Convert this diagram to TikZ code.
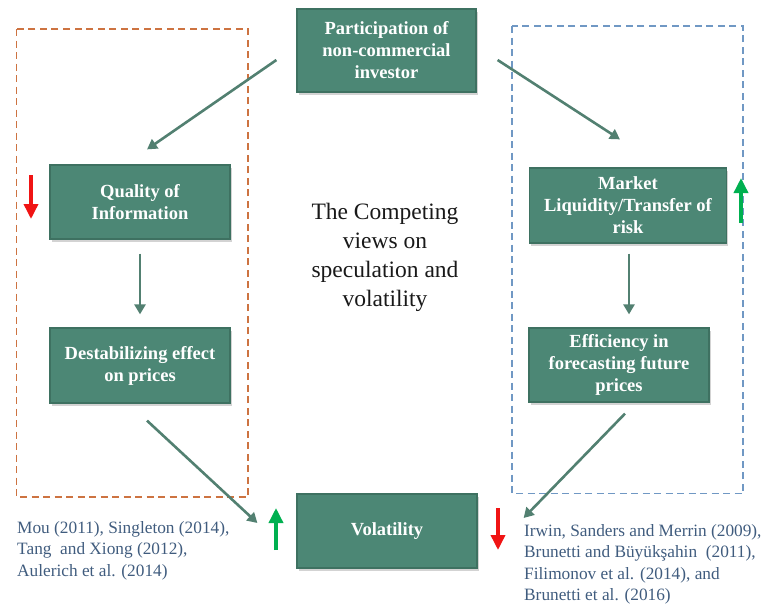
\documentclass[tikz,border=0pt]{standalone}
\usepackage{fontspec}
\setmainfont{Liberation Serif}
\usetikzlibrary{arrows.meta,shadows,calc}
\definecolor{boxgreen}{RGB}{76,135,117}
\definecolor{boxedge}{RGB}{62,113,97}
\definecolor{flowline}{RGB}{82,128,113}
\definecolor{citeblue}{RGB}{64,92,126}
\definecolor{leftdash}{RGB}{205,115,65}
\definecolor{rightdash}{RGB}{112,152,196}
\definecolor{upgreen}{RGB}{0,176,80}
\definecolor{downred}{RGB}{240,20,20}

\begin{document}
\begin{tikzpicture}[x=1pt,y=-1pt,
  factor/.style={fill=boxgreen, draw=boxedge, line width=1.2pt, text=white,
    font=\bfseries\fontsize{18.5}{22}\selectfont, align=center, inner sep=0pt,
    drop shadow={shadow xshift=1.5pt, shadow yshift=-2.5pt, opacity=0.35}},
  flow/.style={draw=flowline, line width=2.6pt,
    -{Triangle[length=10pt,width=11pt]}},
  upmark/.style={draw=upgreen, line width=3.5pt, -{Triangle[length=15pt,width=14pt]}},
  downmark/.style={draw=downred, line width=3.5pt, -{Triangle[length=15pt,width=14pt]}},
  camp/.style={dashed, dash pattern=on 7pt off 4.5pt, line width=1.4pt},
  cite/.style={text=citeblue, font=\fontsize{17.3}{21.5}\selectfont, align=left,
    inner sep=0pt, anchor=north west}
]
\useasboundingbox (0,0) rectangle (763,606);

% the two camps
\draw[camp, leftdash] (16.5,29) rectangle (248,497);
\draw[camp, rightdash] (512,26) rectangle (743,493.5);

% factor boxes
\node[factor, minimum width=179pt, minimum height=83pt] (top) at (386.5,50.5)
  {Participation of\\non-commercial\\investor};
\node[factor, minimum width=180pt, minimum height=74pt] (quality) at (140,202)
  {Quality of\\Information};
\node[factor, minimum width=180pt, minimum height=75pt] (destab) at (140,365.5)
  {Destabilizing effect\\on prices};
\node[factor, minimum width=197pt, minimum height=75pt] (market) at (628,205.5)
  {Market\\Liquidity/Transfer of\\risk};
\node[factor, minimum width=180pt, minimum height=74pt] (eff) at (619,365)
  {Efficiency in\\forecasting future\\prices};
\node[factor, minimum width=180pt, minimum height=74pt] (vol) at (387,531)
  {Volatility};

% centre caption
\node[font=\fontsize{23.5}{29}\selectfont, align=center, text=black!90, inner sep=0pt]
  (caption) at (385,257) {The Competing\\views on\\speculation and\\volatility};

% causal links
\draw[flow] ($(top.west)+(-20,9.5)$) -- ($(quality.north)+(7,-15)$);
\draw[flow] ($(top.east)+(21,9.5)$) -- ($(market.north)+(-8,-28)$);
\draw[flow] ($(quality.south)+(0,14)$) -- ($(destab.north)+(0,-13)$);
\draw[flow] ($(market.south)+(1,10)$) -- ($(eff.north)+(10,-13)$);
\draw[flow] ($(destab.south)+(7,17)$) -- ($(vol.west)+(-39,-8)$);
\draw[flow] ($(eff.south)+(6,11)$) -- ($(vol.east)+(46,-13)$);

% direction markers
\coordinate (qa) at (31,175);  \coordinate (qb) at (31,219);
\coordinate (ma) at (741,223); \coordinate (mb) at (741,178);
\coordinate (va) at (276,550); \coordinate (vb) at (276,508);
\coordinate (wa) at (498,508); \coordinate (wb) at (498,550);
\draw[downmark] (qa) -- (qb);
\draw[upmark] (ma) -- (mb);
\draw[upmark] (va) -- (vb);
\draw[downmark] (wa) -- (wb);

% references
\node[cite] (leftrefs) at (17,521)
  {Mou (2011), Singleton (2014),\\Tang\ \ and Xiong (2012),\\Aulerich et al. (2014)};
\node[cite] (rightrefs) at (524,524)
  {Irwin, Sanders and Merrin (2009),\\Brunetti and Büyükşahin\ \ (2011),\\Filimonov et al. (2014), and\\Brunetti et al. (2016)};
\end{tikzpicture}
\end{document}
